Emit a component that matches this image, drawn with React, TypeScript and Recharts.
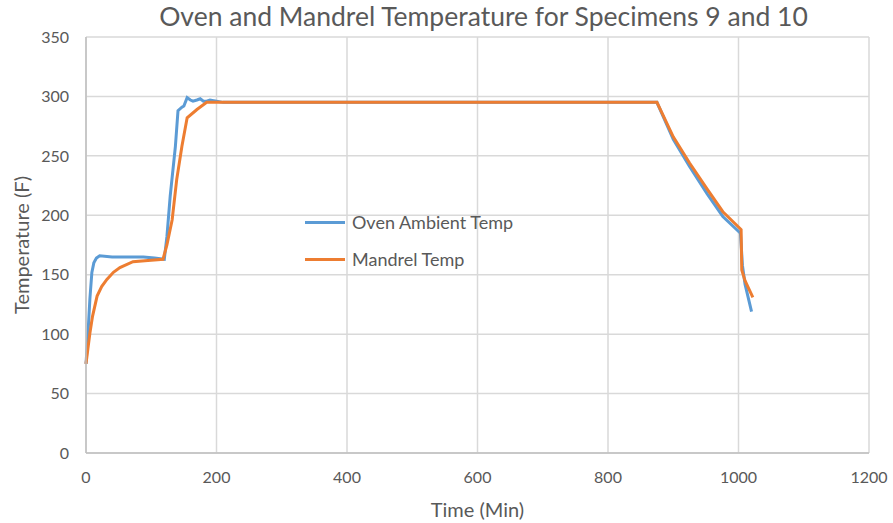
import React from 'react';
import { LineChart, Line, XAxis, YAxis, CartesianGrid, Label } from 'recharts';

// Oven ambient temperature (F) vs time (min)
const ovenTime = [0, 3, 6, 9, 12, 16, 21, 40, 60, 88, 105, 120, 124, 129, 137, 141, 147, 150, 155, 160, 164, 170, 175, 180, 185, 190, 200, 210, 300, 500, 700, 875, 900, 925, 952, 976, 1003, 1006, 1010, 1020];
const ovenTemp = [75, 100, 130, 152, 160, 164, 166, 165, 165, 165, 164, 163, 182, 216, 258, 288, 291, 292, 299, 297, 296, 297, 298, 296, 296, 297, 296, 295, 295, 295, 295, 295, 264, 241, 218, 199, 185, 158, 142, 119];

// Mandrel temperature (F) vs time (min)
const mandrelTime = [0, 3, 6, 10, 17, 24, 32, 42, 52, 72, 95, 118, 124, 132, 139, 147, 155, 170, 185, 200, 300, 500, 700, 875, 900, 925, 952, 976, 1004, 1005, 1010, 1022];
const mandrelTemp = [75, 88, 101, 115, 132, 140, 146, 152, 156, 161, 162, 163, 175, 196, 230, 258, 282, 289, 295, 295, 295, 295, 295, 295, 266, 244, 222, 203, 188, 154, 145, 131];

const xTicks = [0, 200, 400, 600, 800, 1000, 1200];
const yTicks = [0, 50, 100, 150, 200, 250, 300, 350];

const series = [
  { name: 'Oven Ambient Temp', color: '#5B9BD5' },
  { name: 'Mandrel Temp', color: '#ED7D31' },
];

const ovenData = ovenTime.map((t, i) => ({ time: t, temp: ovenTemp[i] }));
const mandrelData = mandrelTime.map((t, i) => ({ time: t, temp: mandrelTemp[i] }));

const FONT = 'Lato, "Open Sans", sans-serif';
const TEXT = '#595959';

export default function App() {
  return (
    <div style={{ position: 'absolute', left: 0, top: 0, width: 893, height: 523, background: '#fff', fontFamily: FONT }}>
      <LineChart width={893} height={523} margin={{ top: 37, right: 24, left: 36, bottom: 40 }}>
        <CartesianGrid stroke="#d9d9d9" strokeWidth={1.5} />
        <XAxis
          dataKey="time"
          type="number"
          domain={[0, 1200]}
          ticks={xTicks}
          allowDuplicatedCategory={false}
          height={30}
          stroke="#bfbfbf"
          strokeWidth={1.5}
          tickLine={false}
          tick={{ fill: TEXT, fontSize: 16, fontFamily: FONT }}
          tickMargin={13}
        >
          <Label value="Time (Min)" position="bottom" offset={20} style={{ fill: TEXT, fontSize: 20, fontFamily: FONT }} />
        </XAxis>
        <YAxis
          type="number"
          domain={[0, 350]}
          ticks={yTicks}
          width={50}
          stroke="#bfbfbf"
          strokeWidth={1.5}
          tickLine={false}
          tick={{ fill: TEXT, fontSize: 16, fontFamily: FONT }}
          tickMargin={11}
        >
          <Label
            value="Temperature (F)"
            angle={-90}
            position="left"
            offset={14}
            style={{ fill: TEXT, fontSize: 20, fontFamily: FONT, textAnchor: 'middle' }}
          />
        </YAxis>
        <Line
          data={ovenData}
          dataKey="temp"
          name="Oven Ambient Temp"
          type="linear"
          stroke="#5B9BD5"
          strokeWidth={3}
          dot={false}
          isAnimationActive={false}
        />
        <Line
          data={mandrelData}
          dataKey="temp"
          name="Mandrel Temp"
          type="linear"
          stroke="#ED7D31"
          strokeWidth={3}
          dot={false}
          isAnimationActive={false}
        />
      </LineChart>
      <div
        style={{
          position: 'absolute',
          top: 0,
          left: 0,
          width: 967,
          textAlign: 'center',
          fontSize: 26.5,
          color: TEXT,
        }}
      >
        Oven and Mandrel Temperature for Specimens 9 and 10
      </div>
      <div style={{ position: 'absolute', left: 305, top: 208 }}>
        {series.map((s) => (
          <div key={s.name} style={{ display: 'flex', alignItems: 'center', height: 28, marginBottom: 9 }}>
            <span style={{ display: 'inline-block', width: 40, height: 3, background: s.color, marginRight: 7 }} />
            <span style={{ fontSize: 18, color: TEXT }}>{s.name}</span>
          </div>
        ))}
      </div>
    </div>
  );
}
